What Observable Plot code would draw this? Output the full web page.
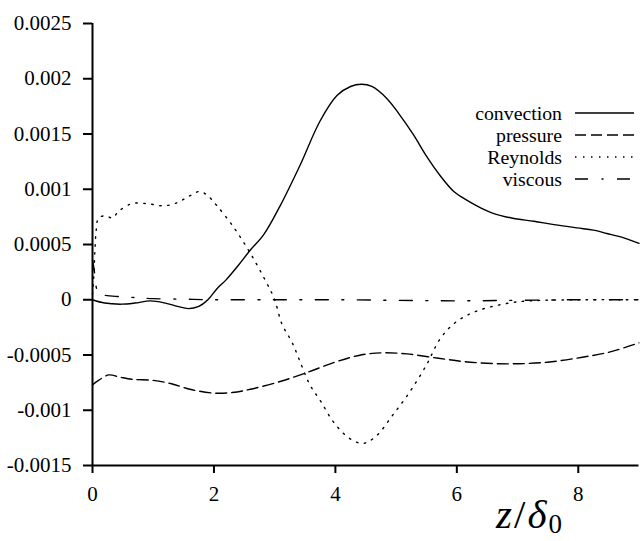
<!DOCTYPE html>
<html><head><meta charset="utf-8">
<script src="https://cdn.jsdelivr.net/npm/d3@7"></script>
<script src="https://cdn.jsdelivr.net/npm/@observablehq/plot@0.6"></script>
<style>
html,body{margin:0;padding:0;background:#fff;}
#wrap{position:relative;width:640px;height:541px;overflow:hidden;font-family:"Liberation Serif","Times New Roman",serif;color:#000;}
#wrap svg text{font-family:"Liberation Serif","Times New Roman",serif !important;}
#xlabel{position:absolute;left:496px;top:494px;font-size:41px;line-height:1;white-space:nowrap;letter-spacing:2px;}
#xlabel sub{font-size:27px;vertical-align:-5px;line-height:0;font-style:normal;letter-spacing:0;}
#legend{position:absolute;left:0;top:0;}
</style></head><body><div id="wrap"></div>
<script>
// ---- data ----
const xTicks = [0, 2, 4, 6, 8];
const xTickLabels = ["0", "2", "4", "6", "8"];
const yTicks = [-0.0015, -0.001, -0.0005, 0, 0.0005, 0.001, 0.0015, 0.002, 0.0025];
const yTickLabels = ["-0.0015", "-0.001", "-0.0005", "0", "0.0005", "0.001", "0.0015", "0.002", "0.0025"];

const seriesNames = ["convection", "pressure", "Reynolds", "viscous"];

const convX = [0, 0.2, 0.48, 0.7, 0.95, 1.2, 1.4, 1.58, 1.75, 1.9, 2.05, 2.2, 2.4, 2.6, 2.82, 3.09, 3.42, 3.75, 4.03, 4.25, 4.43, 4.6, 4.85, 5.05, 5.29, 5.5, 5.73, 5.95, 6.17, 6.4, 6.61, 6.9, 7.27, 7.6, 7.98, 8.25, 8.47, 8.75, 9.0];
const convY = [0, -0.00003, -0.00004, -0.00003, -0.00001, -0.00003, -0.00006, -0.00008, -0.00006, 0, 0.0001, 0.00018, 0.00031, 0.00045, 0.00059, 0.00085, 0.00122, 0.00162, 0.00185, 0.00193, 0.00195, 0.00193, 0.00182, 0.00168, 0.00149, 0.0013, 0.00112, 0.00098, 0.0009, 0.00083, 0.00078, 0.00074, 0.00071, 0.00068, 0.00065, 0.00063, 0.0006, 0.00056, 0.00051];

const presX = [0, 0.1, 0.27, 0.45, 0.65, 1.0, 1.3, 1.6, 2.0, 2.3, 2.6, 3.09, 3.55, 4.02, 4.42, 4.77, 5.18, 5.7, 6.22, 6.86, 7.49, 8.07, 8.54, 9.0];
const presY = [-0.00077, -0.00073, -0.00068, -0.0007, -0.00072, -0.00073, -0.00076, -0.00081, -0.000845, -0.00084, -0.00081, -0.00074, -0.000655, -0.00056, -0.0005, -0.00048, -0.00049, -0.00053, -0.000565, -0.00058, -0.000565, -0.00052, -0.00047, -0.00039];

const reynX = [0, 0.02, 0.04, 0.06, 0.1, 0.21, 0.33, 0.43, 0.65, 0.9, 1.17, 1.4, 1.6, 1.77, 1.9, 2.05, 2.32, 2.6, 2.87, 3.0, 3.12, 3.29, 3.44, 3.58, 3.76, 3.96, 4.22, 4.45, 4.66, 4.95, 5.23, 5.5, 5.73, 5.99, 6.34, 6.86, 7.2, 8.0, 9.0];
const reynY = [0.00005, 0.0002, 0.00045, 0.00062, 0.00074, 0.00076, 0.00074, 0.0008, 0.00087, 0.00087, 0.00085, 0.00088, 0.00094, 0.00098, 0.00094, 0.00085, 0.00066, 0.00042, 0.00015, 0, -0.00022, -0.00039, -0.00059, -0.00077, -0.00092, -0.0011, -0.00125, -0.0013, -0.00124, -0.00104, -0.00083, -0.00059, -0.00035, -0.0002, -0.0001, -0.00003, -0.00001, 0, 0];

const viscX = [0, 0.03, 0.06, 0.1, 0.2, 0.4, 0.7, 1.0, 1.5, 2, 3, 4, 5, 6, 7, 8, 9];
const viscY = [0.00036, 0.00026, 0.00012, 0.00005, 0.00004, 0.00003, 0.00002, 0.00001, 0.000005, 0, 0, 0, -0.000005, -0.00001, -0.000005, 0, 0];

const dashes = ["none", "11,5", "1.5,6.5", "13,13.5,2,13.5"];

// ---- build ----
const FONT = "'Liberation Serif', 'Times New Roman', serif";
const toRows = (xs, ys) => xs.map((x, i) => ({x, y: ys[i]}));
const rows = [toRows(convX, convY), toRows(presX, presY), toRows(reynX, reynY), toRows(viscX, viscY)];

const chart = Plot.plot({
  width: 640, height: 541,
  marginLeft: 92, marginRight: 1.5, marginTop: 23, marginBottom: 76,
  x: {domain: [0, 9]},
  y: {domain: [-0.0015, 0.0025]},
  style: {fontFamily: FONT, fontSize: "21px", background: "white", color: "black", overflow: "visible"},
  marks: [
    ...rows.map((r, i) => Plot.line(r, {x: "x", y: "y", stroke: "black", strokeWidth: 1.4, strokeDasharray: dashes[i] === "none" ? undefined : dashes[i], curve: "catmull-rom"})),
    Plot.ruleX([0], {stroke: "black", strokeWidth: 2}),
    Plot.ruleY([-0.0015], {stroke: "black", strokeWidth: 2}),
    Plot.axisX({ticks: xTicks, tickSize: 8, tickPadding: 13, strokeWidth: 2, fontSize: 21, fontFamily: FONT, tickFormat: d => xTickLabels[xTicks.indexOf(d)], label: null}),
    Plot.axisY({ticks: yTicks, tickSize: 9, tickPadding: 12, strokeWidth: 2, fontSize: 21, fontFamily: FONT, tickFormat: d => yTickLabels[yTicks.indexOf(d)], label: null})
  ]
});
const wrap = document.getElementById("wrap");
wrap.appendChild(chart);

// axis title
const xl = document.createElement("div");
xl.id = "xlabel";
xl.innerHTML = "<i>z</i>/<i>&delta;</i><sub>0</sub>";
wrap.appendChild(xl);

// legend
const leg = d3.select(wrap).append("svg").attr("id", "legend").attr("width", 640).attr("height", 541);
seriesNames.forEach((name, i) => {
  const yc = 113 + i * 22;
  leg.append("text").attr("x", 562).attr("y", yc + 6.5).attr("text-anchor", "end")
    .style("font-family", FONT).attr("font-size", 19.8).text(name);
  const ln = leg.append("line").attr("x1", 575).attr("x2", 634).attr("y1", yc).attr("y2", yc)
    .attr("stroke", "black").attr("stroke-width", 1.4);
  if (dashes[i] !== "none") ln.attr("stroke-dasharray", dashes[i]);
});
</script>
</body></html>
